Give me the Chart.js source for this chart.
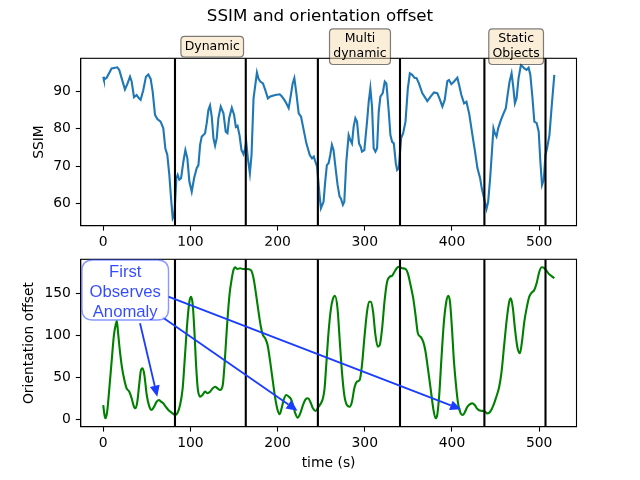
<!DOCTYPE html>
<html>
<head>
<meta charset="utf-8">
<script src="https://cdn.jsdelivr.net/npm/chart.js@4.4.1/dist/chart.umd.min.js"></script>
<style>
  html, body { margin: 0; padding: 0; background: #fff; }
  #wrap { position: relative; width: 640px; height: 480px; }
  canvas { position: absolute; left: 0; top: 0; }
</style>
</head>
<body>
<div id="wrap">
  <canvas id="c1" width="640" height="480"></canvas>
  <canvas id="c2" width="640" height="480"></canvas>
</div>
<script>
// ---------------- DATA ----------------
const ssimTime = [0,0.8,3.9,9.6,16.1,18.4,21.1,24.9,27.6,30.7,32.6,35.3,38.3,41,42.9,45.9,49,51.7,54.4,56.7,59.4,62.1,65.8,68.9,71.2,73.5,75.8,77.8,79.7,81.6,83.9,85.4,87.3,89.3,91.9,94.2,96.5,98.8,101.5,104.2,107.2,109.2,111.1,113,114.9,116.8,118.7,120.6,122.5,124.5,126.4,128.3,130.2,132.1,134.8,137.9,140.5,142.5,144.4,147.5,150.1,152.1,154,156.3,158.6,160.9,162.8,164,165.9,168.2,170.1,172.4,176.3,178.2,180.1,183.2,185.9,188.9,191.6,197.4,202.4,205,207.7,210,212.7,214.6,217.3,219.2,221.5,224.2,226.9,229.9,233,236.9,239.5,241.5,243.4,245.3,248.1,249.7,252.7,254.6,256.5,258.5,260.4,262.3,264.2,266.1,268.8,271.1,272.6,274.9,276.5,278.8,281.5,283.4,285.3,287.2,289.2,291.1,293.4,295.3,296.8,299.5,302.6,304.5,306.4,308.3,310.2,312.2,314.1,316,317.9,320.6,322.9,324.8,327.5,329.4,331.4,333.3,335.6,337.1,339,341.7,344,346.7,349.4,351.7,354.4,357.1,359.4,362.1,365.9,369.8,371.7,375.5,379.4,383.2,386.3,389,391.7,394.7,396.6,399.3,402.4,406.2,408.2,410.8,413.9,416.6,419.7,423.5,426.2,429.2,432.3,434.2,436.9,439.6,441.5,443.8,446.1,447.6,449.2,451.1,453,456.1,459.2,461.8,463.8,466.1,468.4,470.3,472.2,474.1,476.4,479.1,481,483,485.6,487.9,489.9,492.2,494.5,497.2,499.5,501.4,503.3,505.3,507.2,509.1,511.8,514.5,517.4];
const ssimValue = [93.9,93.1,93.6,96.1,96.4,95.7,93.5,90.5,91.9,93.9,92.6,88.4,89.0,88.1,87.7,90.3,93.9,94.5,93.3,89.9,83.7,82.6,81.9,80.1,74.8,73.0,67.7,61.4,56.1,57.0,66.8,67.7,66.4,66.8,71.2,74.3,72.1,65.9,63.2,66.8,69.5,70.3,75.7,77.9,78.3,78.8,81.5,85.0,86.2,83.2,77.5,75.5,77.5,82.8,85.9,84.1,79.2,78.8,82.8,85.6,83.7,80.5,80.8,78.3,74.3,73.2,74.8,76.5,72.1,68.1,73.0,88.1,95.0,93.3,92.6,92.1,90.3,88.1,88.6,89.0,89.2,88.6,87.7,86.8,85.5,88.1,92.1,93.5,89.5,84.1,83.2,79.7,76.1,73.0,72.1,72.6,71.2,69.9,62.3,58.8,60.5,65.9,70.3,70.8,73.0,75.7,74.3,70.3,65.0,61.9,61.4,59.7,60.5,71.2,78.3,77.0,76.1,80.5,82.8,81.9,76.1,75.2,73.9,74.3,81.9,87.2,90.8,85.9,74.8,73.9,74.8,84.6,88.6,89.5,92.6,92.1,84.6,78.3,76.5,76.1,70.8,69.0,69.5,77.5,78.8,81.9,90.8,94.8,94.4,93.6,93.5,92.1,89.5,88.1,87.4,88.6,89.7,89.5,87.7,85.9,87.7,92.7,93.0,91.9,92.6,93.6,91.7,89.0,86.8,87.2,84.1,78.3,74.3,69.5,66.8,64.1,61.4,58.6,60.5,66.8,74.8,80.1,78.8,77.9,80.1,82.3,84.1,85.5,89.0,92.6,94.8,91.2,86.8,88.1,93.5,97.0,96.6,96.1,95.7,96.3,94.4,88.6,81.9,81.5,79.2,71.2,65.0,66.4,73.0,74.8,78.3,86.3,94.4];

const orientTime = [0,1.3,2.5,4.5,7,9.6,12.3,14.6,15.6,16.9,19.2,21.1,23.8,26.8,29.9,32.6,35.3,37.2,39.1,41.4,43.3,45.2,47.2,49.9,52.9,55.6,58.3,61.3,64,66.3,69,71.6,74.7,78.5,82.3,85,88.1,91.1,93.8,96.5,98.8,100.7,102.7,104.6,106.5,108.4,111.1,113.8,116.8,119.9,122.6,125.6,128.3,131,134.1,137.1,139.1,141.8,144.8,147.5,149.4,151.3,154,157.1,160.1,164.7,169.3,172.4,175.4,178.1,180.8,183.1,185.8,188.5,191.5,194.6,197.3,200,202.3,204.6,206.9,210,213,215.3,217.6,220.3,223,226,229.1,232.1,234.8,237.5,240.5,243.6,247,250.2,252,253.9,255.8,258.5,261.1,263.4,265.8,268.8,271.1,273.8,276.5,279.5,282.6,285.3,288,291,294.1,296.8,299.5,302.6,304.9,307.2,309.5,312.2,314.9,317.2,319.9,322.6,325.6,328.7,331.4,334.1,337.1,339.4,342.9,346.7,349.4,352.5,355.6,358.2,360.9,364,367,369.7,372.4,375.5,378.5,381.2,383.1,385.4,387.7,390.8,393.5,395.8,397.7,400,402.3,405,407.3,410,412.7,415,417.7,420.4,423.4,426.1,429.2,433,436.9,440.7,443.8,446.9,450.3,454.2,456.9,459.9,463,465.7,467.6,469.9,472.2,475.3,478,480.3,483,485.6,488.7,491.4,494.4,497.1,500.2,502.9,505.2,507.9,510.6,513.6,517.4];
const orientValue = [17,6,1.2,9,36.9,68.6,100.4,114,117,104.3,80.5,64.6,48.8,36.9,32.9,25,15,13.1,21,42.9,58.7,60.7,52.7,28.9,15,11.1,15,21,23,21,19,15,11.1,7.9,5.1,7.1,17,36.9,76.5,116.2,140,146,136.1,104.3,64.6,36.9,26.9,28.9,32.9,31,32.9,36.9,38.8,36.9,34.9,40.8,64.6,108.3,148,167.9,177.7,181,179,179.8,179,179,177.7,167.9,148,128.1,110.2,100.4,96.4,88.5,68.6,44.8,25,11.1,6,13.1,23,28.9,26.9,24.2,17,7.1,1.9,7.1,17,23.8,25,21,13.1,9.9,15,20,25,36.9,64.6,104.3,131.3,143.2,147,131.3,96.4,56.7,28.9,17,15,21,36.9,44.8,46.8,64.6,96.4,128.1,140,140,128.1,100.4,86.4,88.5,108.3,140,163.8,169.8,171,175.7,180.5,181.7,179.8,179,173.8,159.9,144,124.2,102.4,98.3,92.4,80.5,60.7,36.9,13.1,1.2,5.1,28.9,68.6,116.2,140,147.1,140,108.3,68.6,36.9,17,7.1,5.1,9,15,17.9,19,17,12.3,10.2,9.9,7.1,9,15,25,38.8,56.7,88.5,120.2,140,144,132.1,108.3,84.5,78.6,92.4,116.2,132.1,146,150.7,154,162,175.7,181,180.5,177.7,173.8,171,168];

const phaseBoundaries = [82.3, 163.5, 246.2, 340.4, 437.2, 507.3];
const phaseLabels = [["Dynamic"], ["Multi", "dynamic"], ["Static", "Objects"]];
const phaseLabelTime = [125, 294.5, 473.6];
const phaseLabelSsim = 101.9;

const timeTicks = [0, 100, 200, 300, 400, 500];
const ssimTicks = [60, 70, 80, 90];
const orientTicks = [0, 50, 100, 150];
const timeRange = [-25.85, 542.85];
const ssimRange = [54.13, 98.8];
const orientRange = [-8.8, 190.5];

const anomalyText = ["First", "Observes", "Anomaly"];
const anomalyTextAt = [25.2, 153.9];          // time, orientation
const anomalyFromTime = [42.2, 67.1, 74.7];
const anomalyFromValue = [114.3, 122.1, 146.0];
const anomalyToTime = [62, 222.8, 410.5];
const anomalyToValue = [27, 10.2, 11.9];

// ---------------- HELPERS ----------------
Chart.defaults.font.family = "'DejaVu Sans', sans-serif";
Chart.defaults.color = '#000';
const TICK_FONT = 13.9;

function pts(xs, ys) { return xs.map((x, i) => ({ x: x, y: ys[i] })); }
function boundarySets(range) {
  return phaseBoundaries.map(b => ({
    data: [{ x: b, y: range[0] }, { x: b, y: range[1] }],
    borderColor: '#000', borderWidth: 2.1, pointRadius: 0, tension: 0
  }));
}
function axisCommon() {
  return {
    grid: { drawOnChartArea: false, drawTicks: true, tickLength: 4.9, tickWidth: 1.1, tickColor: '#000' },
    border: { display: true, color: '#000', width: 1.1 }
  };
}
function xAxis(height, titleOpts) {
  return Object.assign(axisCommon(), {
    type: 'linear', position: 'bottom', min: timeRange[0], max: timeRange[1],
    afterBuildTicks: s => { s.ticks = timeTicks.map(v => ({ value: v })); },
    afterFit: s => { s.height = height; },
    ticks: { color: '#000', padding: 3, font: { size: TICK_FONT }, maxRotation: 0, autoSkip: false },
    title: titleOpts || { display: false }
  });
}
function yAxis(range, ticks, title, titlePad) {
  return Object.assign(axisCommon(), {
    type: 'linear', position: 'left', min: range[0], max: range[1],
    afterBuildTicks: s => { s.ticks = ticks.map(v => ({ value: v })); },
    afterFit: s => { s.width = 80.7; },
    ticks: { color: '#000', padding: 4.9, font: { size: TICK_FONT }, autoSkip: false },
    title: { display: true, text: title, color: '#000', font: { size: TICK_FONT }, padding: { top: titlePad, bottom: 0 } }
  });
}
// empty right-hand spacer axis so the title stays centred on the whole figure
function rightSpacer() {
  return {
    type: 'linear', position: 'right', display: true, min: 0, max: 1,
    afterFit: s => { s.width = 63.5; },
    ticks: { display: false }, grid: { display: false, drawTicks: false },
    border: { display: false }, title: { display: false }
  };
}
const framePlugin = {
  id: 'frame',
  afterDraw(chart) {
    const a = chart.chartArea, ctx = chart.ctx;
    ctx.save();
    ctx.strokeStyle = '#000'; ctx.lineWidth = 1.1;
    ctx.strokeRect(a.left, a.top, a.right - a.left, a.bottom - a.top);
    ctx.restore();
  }
};
function roundRect(ctx, x, y, w, h, r) {
  ctx.beginPath();
  ctx.moveTo(x + r, y);
  ctx.lineTo(x + w - r, y); ctx.quadraticCurveTo(x + w, y, x + w, y + r);
  ctx.lineTo(x + w, y + h - r); ctx.quadraticCurveTo(x + w, y + h, x + w - r, y + h);
  ctx.lineTo(x + r, y + h); ctx.quadraticCurveTo(x, y + h, x, y + h - r);
  ctx.lineTo(x, y + r); ctx.quadraticCurveTo(x, y, x + r, y);
  ctx.closePath();
}
const phasePlugin = {
  id: 'phaseLabels',
  afterDraw(chart) {
    const ctx = chart.ctx, xs = chart.scales.x, ys = chart.scales.y;
    const fs = 12.5, pad = 3.75, lh = 15;
    ctx.save();
    ctx.font = fs + "px 'DejaVu Sans'";
    ctx.textAlign = 'center'; ctx.textBaseline = 'middle';
    phaseLabels.forEach((lines, i) => {
      const cx = xs.getPixelForValue(phaseLabelTime[i]);
      const cy = ys.getPixelForValue(phaseLabelSsim);
      const w = Math.max(...lines.map(l => ctx.measureText(l).width)) + 2 * pad;
      const h = (lines.length - 1) * lh + 13.1 + 2 * pad;
      roundRect(ctx, cx - w / 2, cy - h / 2, w, h, pad);
      ctx.fillStyle = 'rgba(245,222,179,0.5)'; ctx.fill();
      ctx.strokeStyle = 'rgba(0,0,0,0.5)'; ctx.lineWidth = 1.2; ctx.stroke();
      ctx.fillStyle = '#000';
      lines.forEach((l, j) => ctx.fillText(l, cx, cy + (j - (lines.length - 1) / 2) * lh));
    });
    ctx.restore();
  }
};
const anomalyPlugin = {
  id: 'anomaly',
  afterDraw(chart) {
    const ctx = chart.ctx, xs = chart.scales.x, ys = chart.scales.y;
    ctx.save();
    const col = '#1a3cff';
    anomalyToTime.forEach((t, i) => {
      const x0 = xs.getPixelForValue(anomalyFromTime[i]), y0 = ys.getPixelForValue(anomalyFromValue[i]);
      const x1 = xs.getPixelForValue(t), y1 = ys.getPixelForValue(anomalyToValue[i]);
      const ang = Math.atan2(y1 - y0, x1 - x0), hl = 11, hw = 5;
      const bx = x1 - hl * Math.cos(ang), by = y1 - hl * Math.sin(ang);
      ctx.strokeStyle = col; ctx.lineWidth = 1.8;
      ctx.beginPath(); ctx.moveTo(x0, y0); ctx.lineTo(bx, by); ctx.stroke();
      ctx.fillStyle = col;
      ctx.beginPath();
      ctx.moveTo(x1, y1);
      ctx.lineTo(bx + hw * Math.sin(ang), by - hw * Math.cos(ang));
      ctx.lineTo(bx - hw * Math.sin(ang), by + hw * Math.cos(ang));
      ctx.closePath(); ctx.fill();
    });
    const fs = 16.7, lh = 20, padX = 7.6;
    ctx.font = fs + "px 'Liberation Sans', Arial, sans-serif";
    const cx = xs.getPixelForValue(anomalyTextAt[0]), cy = ys.getPixelForValue(anomalyTextAt[1]);
    const w = Math.max(...anomalyText.map(l => ctx.measureText(l).width)) + 2 * padX;
    const h = 60;
    roundRect(ctx, cx - w / 2, cy - h / 2, w, h, 11);
    ctx.fillStyle = 'rgba(255,255,255,0.88)'; ctx.fill();
    ctx.strokeStyle = 'rgba(40,70,255,0.55)'; ctx.lineWidth = 1.4; ctx.stroke();
    ctx.fillStyle = 'rgba(0,30,255,0.8)';
    ctx.textAlign = 'center'; ctx.textBaseline = 'middle';
    anomalyText.forEach((l, j) => ctx.fillText(l, cx, cy + 2.5 + (j - 1) * lh));
    ctx.restore();
  }
};

// ---------------- TOP CHART ----------------
new Chart(document.getElementById('c1'), {
  type: 'line',
  data: {
    datasets: boundarySets(ssimRange).concat([{
      label: 'SSIM', data: pts(ssimTime, ssimValue),
      borderColor: '#1f77b4', borderWidth: 2.1, pointRadius: 0, tension: 0
    }])
  },
  options: {
    responsive: false, animation: false,
    layout: { padding: { top: 0, left: 0, right: 0, bottom: 234.3 } },
    plugins: {
      legend: { display: false }, tooltip: { enabled: false },
      title: { display: true, text: 'SSIM and orientation offset', color: '#000',
               font: { size: 16.7, weight: 'normal' }, padding: { top: 6.5, bottom: 31.76 } }
    },
    scales: {
      x: xAxis(20),
      y: yAxis(ssimRange, ssimTicks, 'SSIM', 31.2),
      yR: rightSpacer()
    }
  },
  plugins: [framePlugin, phasePlugin]
});

// ---------------- BOTTOM CHART ----------------
new Chart(document.getElementById('c2'), {
  type: 'line',
  data: {
    datasets: boundarySets(orientRange).concat([{
      label: 'Orientation offset', data: pts(orientTime, orientValue),
      borderColor: '#008000', borderWidth: 2.1, pointRadius: 0,
      cubicInterpolationMode: 'monotone', tension: 0.4
    }])
  },
  options: {
    responsive: false, animation: false,
    layout: { padding: { top: 259.3, left: 0, right: 0, bottom: 0 } },
    plugins: { legend: { display: false }, tooltip: { enabled: false } },
    scales: {
      x: xAxis(53.3, { display: true, text: 'time (s)', color: '#000', font: { size: TICK_FONT }, padding: { top: 0, bottom: 8.7 } }),
      y: yAxis(orientRange, orientTicks, 'Orientation offset', 21.2),
      yR: rightSpacer()
    }
  },
  plugins: [framePlugin, anomalyPlugin]
});
</script>
</body>
</html>
